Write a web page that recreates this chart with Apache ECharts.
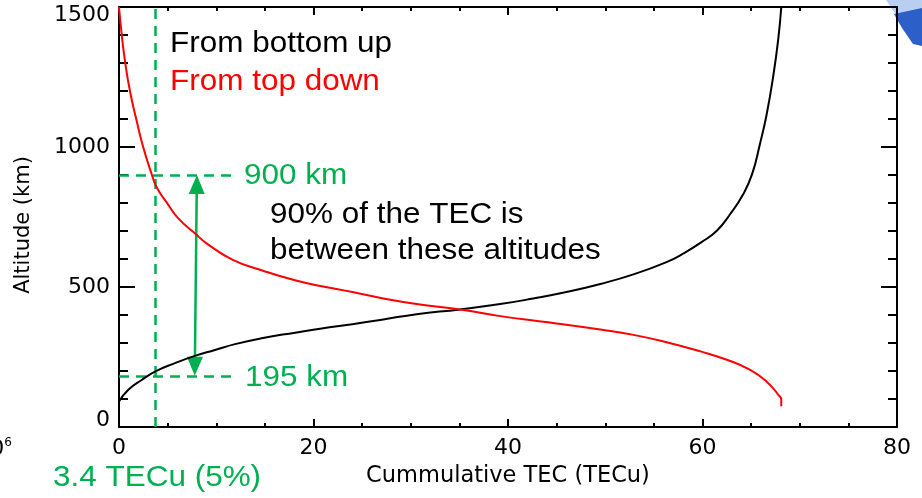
<!DOCTYPE html>
<html><head><meta charset="utf-8">
<script src="https://cdn.jsdelivr.net/npm/echarts@6/dist/echarts.min.js"></script>
<style>html,body{margin:0;padding:0;background:#fff}#c{width:922px;height:498px}</style>
</head><body><div id="c"></div>
<script>
// Cumulative TEC integrated from the bottom up (TECu) vs altitude (km)
const bottomUpTEC = [0, 0.96, 2.33, 3.7, 5.76, 7.8, 9.87, 11.93, 14.67, 18.1, 20.84, 24.0, 27.18, 30.6, 35.06, 39.2, 42.6, 46.0, 49.5, 52.9, 56.3, 58.0, 59.9, 61.5, 62.8, 64.2, 65.1, 65.9, 66.6, 67.3, 67.8, 68.1];
const bottomUpAlt = [91, 133, 168, 198, 228, 254, 275, 296, 317, 337, 352, 367, 384, 403, 420, 439, 459, 482, 511, 545, 589, 619, 660, 702, 758, 832, 903, 1010, 1117, 1259, 1389, 1500];
// Cumulative TEC integrated from the top down
const topDownTEC = [0, 0.28, 0.62, 1.13, 1.82, 2.5, 3.36, 3.87, 4.9, 6.07, 8.0, 9.0, 11.7, 14.67, 18.1, 20.84, 24.0, 27.18, 30.6, 35.06, 39.2, 44.3, 49.5, 52.9, 56.4, 59.8, 62.5, 64.9, 66.6, 67.8, 68.1, 68.1];
const topDownAlt = [1500, 1401, 1306, 1199, 1093, 998, 903, 856, 802, 746, 686, 656, 597, 560, 524, 503, 482, 459, 439, 420, 396, 373, 348, 329, 302, 270, 240, 204, 162, 115, 97, 74];
// Annotation values
const tec5pct = 3.7;          // vertical dashed guide (labelled 3.4 TECu)
const upperAlt = 900;         // 900 km guide
const lowerAlt = 183;         // 195 km guide as drawn
const guideEndTEC = 12;       // where horizontal guides stop
const arrowTEC = [7.8, 8.0];  // arrow x (bottom, top)
const arrowAlt = [217, 866];  // arrow head centres
const xTicks = {min: 0, max: 80, interval: 20};
const yTicks = {min: 0, max: 1500, interval: 500};

const GREEN = '#00B050';
const chart = echarts.init(document.getElementById('c'), null, {renderer: 'canvas'});

const axisLine = {show: true, onZero: false, lineStyle: {color: '#000', width: 2}};
const tickStyle = {color: '#000', width: 2};
const lbl = {color: '#000', fontFamily: 'DejaVu Sans', fontSize: 22};

function xAx(pos, withLabels) {
  return {
    type: 'value', position: pos, min: xTicks.min, max: xTicks.max, interval: xTicks.interval,
    axisLine: axisLine,
    axisTick: {show: true, inside: true, length: 8, lineStyle: tickStyle},
    minorTick: {show: true, splitNumber: 4, length: 4, lineStyle: tickStyle},
    splitLine: {show: false}, minorSplitLine: {show: false},
    axisLabel: withLabels ? Object.assign({margin: 10}, lbl) : {show: false},
    name: withLabels ? 'Cummulative TEC (TECu)' : '',
    nameLocation: 'middle', nameGap: 38,
    nameTextStyle: {color: '#000', fontFamily: 'DejaVu Sans', fontSize: 22.5}
  };
}
function yAx(pos, withLabels) {
  return {
    type: 'value', position: pos, min: yTicks.min, max: yTicks.max, interval: yTicks.interval,
    axisLine: axisLine,
    axisTick: {show: true, inside: true, length: 16, lineStyle: tickStyle},
    minorTick: {show: true, splitNumber: 5, length: 9, lineStyle: tickStyle},
    splitLine: {show: false}, minorSplitLine: {show: false},
    axisLabel: withLabels ? Object.assign({
      margin: 9,
      formatter: function (v) {
        if (v === yTicks.max) return '{top|' + v + '}';
        if (v === yTicks.min) return '{bot|' + v + '}';
        return '{n|' + v + '}';
      },
      rich: {
        top: {fontFamily: 'DejaVu Sans', fontSize: 22, color: '#000', padding: [16, 0, 0, 0]},
        bot: {fontFamily: 'DejaVu Sans', fontSize: 22, color: '#000', padding: [0, 0, 13, 0]},
        n: {fontFamily: 'DejaVu Sans', fontSize: 22, color: '#000'}
      }
    }, lbl) : {show: false}
  };
}

const annFont = '29px "Liberation Sans", Arial, sans-serif';
function ann(text, x, y, color) {
  return {type: 'text', x: x, y: y, scaleX: 1.085, z: 100,
    style: {text: text, font: annFont, fill: color, align: 'left', verticalAlign: 'middle'}};
}

chart.setOption({
  animation: false,
  backgroundColor: '#fff',
  grid: {left: 119, top: 7, width: 778, height: 420, containLabel: false},
  xAxis: [xAx('bottom', true), xAx('top', false)],
  yAxis: [yAx('left', true), yAx('right', false)],
  series: [
    {
      name: 'From bottom up', type: 'line', xAxisIndex: 0, yAxisIndex: 0,
      data: bottomUpTEC.map((x, i) => [x, bottomUpAlt[i]]),
      showSymbol: false, symbol: 'none', smooth: 0.5,
      lineStyle: {color: '#000', width: 2}, z: 5,
      markLine: {
        silent: true, symbol: 'none', animation: false,
        label: {show: false},
        lineStyle: {color: GREEN, width: 2.5, type: [10, 7]},
        data: [
          {xAxis: tec5pct},
          [{coord: [0, upperAlt]}, {coord: [guideEndTEC, upperAlt]}],
          [{coord: [0, lowerAlt]}, {coord: [guideEndTEC, lowerAlt]}],
          [
            {coord: [arrowTEC[0], arrowAlt[0]], symbol: 'triangle', symbolSize: [16, 19],
             lineStyle: {color: GREEN, width: 2.5, type: 'solid'}},
            {coord: [arrowTEC[1], arrowAlt[1]], symbol: 'triangle', symbolSize: [16, 19]}
          ]
        ]
      }
    },
    {
      name: 'From top down', type: 'line', xAxisIndex: 0, yAxisIndex: 0,
      data: topDownTEC.map((x, i) => [x, topDownAlt[i]]),
      showSymbol: false, symbol: 'none', smooth: 0.5,
      lineStyle: {color: '#FF0000', width: 2}, z: 5
    }
  ],
  graphic: [
    ann('From bottom up', 170, 44, '#000'),
    ann('From top down', 170, 82, '#FF0000'),
    ann('900 km', 244, 176, GREEN),
    ann('90% of the TEC is', 270, 214.5, '#000'),
    ann('between these altitudes', 270, 251, '#000'),
    ann('195 km', 245, 378, GREEN),
    ann('3.4 TECu (5%)', 53, 478, GREEN),
    {type: 'text', x: 23.5, y: 225, rotation: Math.PI / 2,
     style: {text: 'Altitude (km)', font: '21px "DejaVu Sans"', fill: '#000', align: 'center', verticalAlign: 'middle'}},
    {type: 'text', x: 12, y: 449,
     style: {text: '10{s|6}', font: '22px "DejaVu Sans"', fill: '#000', align: 'right', verticalAlign: 'middle',
       rich: {s: {fontSize: 12, fontFamily: 'DejaVu Sans', verticalAlign: 'top', padding: [0, 0, 12, 0]}}}},
    {type: 'polygon', shape: {points: [[886, 0], [922, 0], [922, 9], [896, 15]]}, style: {fill: '#b8cff2'}},
    {type: 'polygon', shape: {points: [[894, 14], [922, 8], [922, 46], [913, 44], [902, 28]]}, style: {fill: '#2d5fc9'}}
  ]
});
</script></body></html>
